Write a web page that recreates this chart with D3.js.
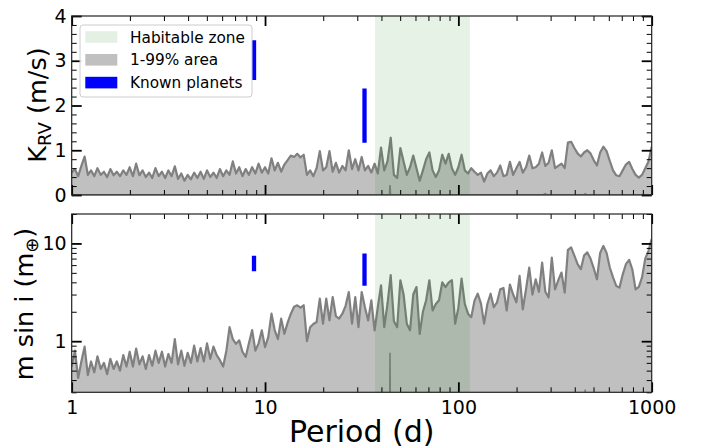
<!DOCTYPE html>
<html><head><meta charset="utf-8">
<script src="https://cdn.jsdelivr.net/npm/d3@7"></script>
<style>html,body{margin:0;padding:0;background:#fff;}svg{display:block;font-family:"DejaVu Sans",sans-serif;}</style>
</head><body><svg id="c" width="703" height="448"></svg>
<script>
const periods = [
1.000,1.039,1.080,1.122,1.166,1.212,1.259,1.309,1.359,1.413,1.468,1.525,1.585,1.647,1.711,1.778,1.848,1.920,1.995,2.073,2.154,2.239,2.326,2.417,2.512,2.610,2.712,2.818,2.929,3.043,3.162,3.286,3.415,3.548,3.687,3.831,3.981,4.137,4.299,4.467,4.642,4.823,5.012,5.208,5.412,5.623,5.843,6.072,6.310,6.556,6.813,7.079,7.356,7.644,7.943,8.254,8.577,8.913,9.261,9.624,
10.00,10.39,10.80,11.22,11.66,12.12,12.59,13.09,13.59,14.13,14.68,15.25,15.85,16.47,17.11,17.78,18.48,19.20,19.95,20.73,21.54,22.39,23.26,24.17,25.12,26.10,27.12,28.18,29.29,30.43,31.62,32.86,34.15,35.48,36.87,38.31,39.81,41.37,42.99,44.67,46.42,48.23,50.12,52.08,54.12,56.23,58.43,60.72,63.10,65.56,68.13,70.79,73.56,76.44,79.43,82.54,85.77,89.13,92.61,96.24,
100.0,103.9,108.0,112.2,116.6,121.2,125.9,130.9,135.9,141.3,146.8,152.5,158.5,164.7,171.1,177.8,184.8,192.0,199.5,207.3,215.4,223.9,232.6,241.7,251.2,261.0,271.2,281.8,292.9,304.3,316.2,328.6,341.5,354.8,368.7,383.1,398.1,413.7,429.9,446.7,464.2,482.3,501.2,520.8,541.2,562.3,584.3,607.2,631.0,655.6,681.3,707.9,735.6,764.4,794.3,825.4,857.7,891.3,926.1,962.4,
1000];
const kUpper = [
0.50,0.58,0.42,0.65,0.86,0.45,0.55,0.42,0.60,0.45,
0.52,0.40,0.58,0.44,0.52,0.42,0.55,0.45,0.62,0.42,
0.70,0.44,0.55,0.40,0.50,0.38,0.60,0.42,0.52,0.38,
0.55,0.42,0.64,0.36,0.48,0.32,0.45,0.35,0.50,0.38,
0.52,0.36,0.55,0.40,0.50,0.38,0.58,0.42,0.55,0.45,
0.75,0.48,0.62,0.42,0.58,0.45,0.62,0.48,0.70,0.50,
0.62,0.48,0.82,0.55,0.72,0.52,0.68,0.78,0.88,0.85,
0.92,0.84,0.90,0.45,0.55,0.42,0.60,0.98,0.55,0.62,
0.98,0.52,0.72,0.50,0.65,0.55,1.00,0.58,0.80,0.55,
0.85,0.55,0.65,0.50,0.70,0.48,1.06,0.55,0.75,1.28,
0.45,0.38,1.05,0.75,0.45,0.62,0.88,0.60,0.32,0.55,
0.80,0.95,0.55,0.40,0.55,0.90,0.70,0.92,0.60,0.45,
0.62,0.90,0.55,0.48,0.60,0.52,0.45,0.50,0.30,0.48,
0.55,0.42,0.50,0.66,0.42,0.45,0.74,0.45,0.60,0.74,
0.50,0.62,0.88,0.60,0.62,0.70,0.95,0.65,0.72,1.00,
0.60,0.65,0.70,0.60,1.17,1.19,1.05,0.93,0.86,0.95,
1.00,0.93,0.78,0.66,0.95,1.08,0.98,0.76,0.55,0.44,
0.42,0.55,0.68,0.74,0.58,0.45,0.39,0.45,0.60,0.75,
1.08];
const mUpper = [
0.55,0.80,0.42,0.62,0.88,0.45,0.62,0.48,0.70,0.52,
0.60,0.46,0.66,0.52,0.62,0.50,0.72,0.55,0.78,0.55,
0.84,0.58,0.70,0.52,0.72,0.56,0.80,0.60,0.78,0.55,
0.74,0.60,1.05,0.58,0.80,0.56,0.76,0.60,0.90,0.62,
0.85,0.62,0.95,0.66,0.88,0.72,0.64,0.55,0.80,1.39,
1.05,0.94,1.02,0.78,0.69,0.95,1.30,0.80,0.95,1.29,
0.87,1.10,1.91,1.30,1.05,1.70,1.19,1.55,1.90,2.25,
2.33,2.20,2.33,1.00,1.39,1.50,1.57,2.72,1.51,2.72,
1.63,2.83,1.80,1.70,1.91,2.30,3.18,1.51,2.83,1.39,
3.18,2.23,1.63,2.62,1.29,2.23,3.73,1.39,2.40,4.73,
1.60,1.39,4.20,3.00,1.51,1.29,3.00,3.58,1.19,2.00,
2.62,4.20,2.06,2.40,2.62,4.00,3.58,4.00,4.20,1.51,
2.20,4.37,2.40,1.91,1.76,2.60,3.06,2.42,1.51,2.40,
3.06,2.23,2.50,3.40,3.50,2.06,3.80,3.00,2.50,4.65,
2.12,3.40,5.67,3.00,4.30,3.20,6.38,3.20,2.80,7.18,
3.39,4.20,5.04,3.14,8.60,9.10,7.50,6.13,5.45,7.50,
8.10,7.00,5.60,4.30,8.00,9.43,8.00,5.67,4.50,3.67,
3.53,4.80,6.13,6.80,5.40,3.39,3.60,4.50,7.00,8.40,
11.1];
const lowerPeriods = [1, 44.0, 44.3, 44.6, 275, 281, 287, 445, 453, 461, 1000];
const kLower = [0.005,0.005,0.22,0.005,0.005,0.03,0.005,0.005,0.03,0.005,0.005];
const mLower = [0.1,0.1,0.76,0.1,0.1,0.1,0.1,0.1,0.32,0.1,0.1];
const hzRange = [37.1, 114.6];
const planetPeriods = [8.77, 32.7];
const planetKmin = [2.57, 1.17];
const planetKmax = [3.46, 2.38];
const planetMmin = [5.2, 3.7];
const planetMmax = [7.5, 7.9];
const xTickValues = [1, 10, 100, 1000];
const xTickLabels = ["1", "10", "100", "1000"];
const kTickValues = [0, 1, 2, 3, 4];
const mTickValues = [1, 10];
const mTickLabels = ["1", "10"];
const legendLabels = ["Habitable zone", "1-99% area", "Known planets"];

const svg = d3.select("#c");
const L = 71.7, R = 651.7;
const x = d3.scaleLog().domain([1, 1000]).range([L, R]);
const yK = d3.scaleLinear().domain([0, 4]).range([195, 16]);
const yM = d3.scaleLog().domain([0.3, 20]).range([392.3, 214]);

const upperK = periods.map((p, i) => [p, kUpper[i]]);
const upperM = periods.map((p, i) => [p, mUpper[i]]);
const lowK = lowerPeriods.map((p, i) => [p, kLower[i]]);
const lowM = lowerPeriods.map((p, i) => [p, mLower[i]]);

const minorX = [];
for (let d = 1; d < 1000; d *= 10) for (let j = 2; j <= 9; j++) minorX.push(d * j);
const minorK = d3.range(0, 4.01, 0.2).map(v => +v.toFixed(1)).filter(v => Math.abs(v - Math.round(v)) > 0.01);
const minorM = [0.3,0.4,0.5,0.6,0.7,0.8,0.9,2,3,4,5,6,7,8,9,20];

function panel(id, y, upper, low, pMin, pMax, yTicks, yLabels, yMinor, showX) {
  const [y0, y1] = y.range();
  const g = svg.append("g");
  const defs = svg.append("defs");
  defs.append("clipPath").attr("id", "clip" + id).append("rect")
    .attr("x", L).attr("y", y1).attr("width", R - L).attr("height", y0 - y1);
  const cg = g.append("g").attr("clip-path", `url(#clip${id})`);
  cg.append("path").datum(upper)
    .attr("d", d3.area().x(d => x(d[0])).y0(y0).y1(d => y(d[1])))
    .attr("fill", "#c0c0c0");
  cg.append("path").datum(upper)
    .attr("d", d3.line().x(d => x(d[0])).y(d => y(d[1])))
    .attr("fill", "none").attr("stroke", "#808080").attr("stroke-width", 2.2).attr("stroke-linejoin", "round");
  cg.append("path").datum(low)
    .attr("d", d3.line().x(d => x(d[0])).y(d => y(d[1])))
    .attr("fill", "none").attr("stroke", "#808080").attr("stroke-width", 1.6);
  cg.append("rect").attr("x", x(hzRange[0])).attr("width", x(hzRange[1]) - x(hzRange[0]))
    .attr("y", y1).attr("height", y0 - y1).attr("fill", "green").attr("fill-opacity", 0.1);
  planetPeriods.forEach((p, i) => {
    cg.append("line").attr("x1", x(p)).attr("x2", x(p)).attr("y1", y(pMin[i])).attr("y2", y(pMax[i]))
      .attr("stroke", "blue").attr("stroke-width", 4.3);
  });
  const addAxis = (axis, tr, major) => {
    const a = g.append("g").attr("transform", tr).call(axis);
    a.select(".domain").remove();
    a.selectAll(".tick line").attr("stroke", "#000").attr("stroke-width", major ? 1.8 : 1);
    return a;
  };
  addAxis(d3.axisBottom(x).tickValues(xTickValues).tickSize(-10).tickFormat(""), `translate(0,${y0})`, true);
  addAxis(d3.axisTop(x).tickValues(xTickValues).tickSize(-10).tickFormat(""), `translate(0,${y1})`, true);
  addAxis(d3.axisBottom(x).tickValues(minorX).tickSize(-5).tickFormat(""), `translate(0,${y0})`, false);
  addAxis(d3.axisTop(x).tickValues(minorX).tickSize(-5).tickFormat(""), `translate(0,${y1})`, false);
  const yl = addAxis(d3.axisLeft(y).tickValues(yTicks).tickSize(-10).tickPadding(5).tickFormat((d, i) => yLabels[i]), `translate(${L},0)`, true);
  yl.selectAll("text").attr("font-size", 19).attr("font-family", "DejaVu Sans").attr("fill", "#000").attr("x", -5);
  addAxis(d3.axisRight(y).tickValues(yTicks).tickSize(-10).tickFormat(""), `translate(${R},0)`, true);
  addAxis(d3.axisLeft(y).tickValues(yMinor).tickSize(-5).tickFormat(""), `translate(${L},0)`, false);
  addAxis(d3.axisRight(y).tickValues(yMinor).tickSize(-5).tickFormat(""), `translate(${R},0)`, false);
  if (showX) {
    const xl = g.append("g").attr("transform", `translate(0,${y0})`)
      .call(d3.axisBottom(x).tickValues(xTickValues).tickSize(0).tickPadding(8).tickFormat((d, i) => xTickLabels[i]));
    xl.select(".domain").remove();
    xl.selectAll("text").attr("font-size", 19).attr("font-family", "DejaVu Sans").attr("fill", "#000");
  }
  g.append("rect").attr("x", L).attr("y", y1).attr("width", R - L).attr("height", y0 - y1)
    .attr("fill", "none").attr("stroke", "#222").attr("stroke-width", 1.2);
}

panel("k", yK, upperK, lowK, planetKmin, planetKmax, kTickValues, kTickValues.map(String), minorK, false);
panel("m", yM, upperM, lowM, planetMmin, planetMmax, mTickValues, mTickLabels, minorM, true);

const lg = svg.append("g");
lg.append("rect").attr("x", 80).attr("y", 25).attr("width", 172).attr("height", 72).attr("rx", 3)
  .attr("fill", "#fff").attr("fill-opacity", 0.85).attr("stroke", "#cccccc").attr("stroke-width", 1);
const patchColors = ["#e5f0e5", "#c0c0c0", "blue"];
legendLabels.forEach((t, i) => {
  const cy = 37 + i * 22.8;
  lg.append("rect").attr("x", 85.3).attr("y", cy - 5.8).attr("width", 32).attr("height", 11.6).attr("fill", patchColors[i]);
  lg.append("text").attr("x", 130).attr("y", cy).attr("dy", "0.36em").attr("font-size", 15.3).attr("fill", "#000").text(t);
});

const t1 = svg.append("text").attr("transform", "translate(45.5,105) rotate(-90)").attr("text-anchor", "middle")
  .attr("font-size", 25.5).attr("fill", "#000");
t1.append("tspan").text("K");
t1.append("tspan").attr("font-size", 18).attr("dy", 5).text("RV");
t1.append("tspan").attr("dy", -5).text(" (m/s)");
const t2 = svg.append("text").attr("transform", "translate(33,304) rotate(-90)").attr("text-anchor", "middle")
  .attr("font-size", 25.5).attr("fill", "#000");
t2.append("tspan").text("m sin i (m");
t2.append("tspan").attr("font-size", 18).attr("dy", 5).text("⊕");
t2.append("tspan").attr("dy", -5).text(")");
svg.append("text").attr("x", 361.7).attr("y", 441.5).attr("text-anchor", "middle").attr("font-size", 30)
  .attr("fill", "#000").text("Period (d)");
</script></body></html>
